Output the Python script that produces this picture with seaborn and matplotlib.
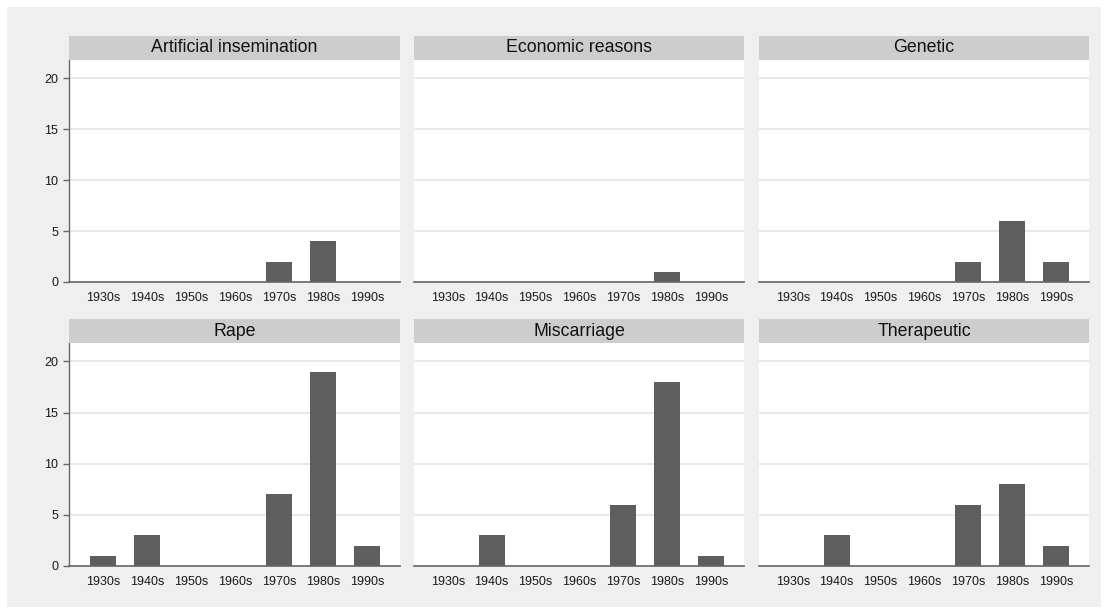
import numpy as np
import pandas as pd
import matplotlib
matplotlib.use('Agg')
import matplotlib.pyplot as plt
import matplotlib.patches as patches
import seaborn as sns

# data
decades = ['1930s', '1940s', '1950s', '1960s', '1970s', '1980s', '1990s']
reasons = ['Artificial insemination', 'Economic reasons', 'Genetic',
           'Rape', 'Miscarriage', 'Therapeutic']
artificial = [0, 0, 0, 0, 2, 4, 0]
economic = [0, 0, 0, 0, 0, 1, 0]
genetic = [0, 0, 0, 0, 2, 6, 2]
rape = [1, 3, 0, 0, 7, 19, 2]
miscarriage = [0, 3, 0, 0, 6, 18, 1]
therapeutic = [0, 3, 0, 0, 6, 8, 2]
y_ticks = [0, 5, 10, 15, 20]

series = [artificial, economic, genetic, rape, miscarriage, therapeutic]
df = pd.DataFrame({
    'reason': np.repeat(reasons, len(decades)),
    'decade': decades * len(reasons),
    'count': np.concatenate(series),
})

sns.set_theme(style='white')
plt.rcParams['font.family'] = ['Liberation Sans', 'DejaVu Sans']

W, H = 1110, 615
fig = plt.figure(figsize=(W / 100, H / 100), dpi=100, facecolor='white')

# light gray backdrop like the stata graph region
fig.patches.append(patches.Rectangle((7 / W, 1 - 607 / H), 1094 / W, 600 / H,
                                     transform=fig.transFigure, facecolor='#efefef',
                                     edgecolor='none', zorder=-5))

cols = [(69, 400), (414, 744), (759, 1089)]
rows = [(36, 60, 282), (319, 343, 566)]  # header top, plot top, plot bottom (px)

for i, reason in enumerate(reasons):
    r, c = divmod(i, 3)
    x0, x1 = cols[c]
    ht, yt, yb = rows[r]
    ax = fig.add_axes([x0 / W, 1 - yb / H, (x1 - x0) / W, (yb - yt) / H])
    ax.set_facecolor('white')

    sub = df[df.reason == reason]
    sns.barplot(data=sub, x='decade', y='count', order=decades, color='#5e5e5e',
                saturation=1, width=0.6, linewidth=0, ax=ax, zorder=3)

    ax.set_xlim(-0.77, 6.75)
    ax.set_ylim(0, 21.8)
    ax.set_yticks(y_ticks)
    ax.yaxis.grid(True, color='#e9e9e9', linewidth=1.5, zorder=0)
    ax.set_axisbelow(True)
    ax.set_xlabel('')
    ax.set_ylabel('')

    for s in ['top', 'right']:
        ax.spines[s].set_visible(False)
    ax.spines['bottom'].set_color('#666666')
    ax.spines['bottom'].set_linewidth(1.2)
    ax.spines['bottom'].set_zorder(5)
    ax.tick_params(axis='x', bottom=False, labelsize=9, pad=1.4, labelcolor='#1a1a1a')
    if c == 0:
        ax.spines['left'].set_color('#666666')
        ax.spines['left'].set_linewidth(1.0)
        ax.tick_params(axis='y', left=True, length=4.3, width=1, color='#666666',
                       labelsize=9, pad=3.4, labelcolor='#1a1a1a')
    else:
        ax.spines['left'].set_visible(False)
        ax.tick_params(axis='y', left=False, labelleft=False)

    # header strip
    fig.patches.append(patches.Rectangle((x0 / W, 1 - yt / H), (x1 - x0) / W, (yt - ht) / H,
                                         transform=fig.transFigure, facecolor='#cdcdcd',
                                         edgecolor='none', zorder=1))
    fig.text((x0 + x1) / 2 / W, 1 - (ht + yt) / 2 / H, reason, ha='center', va='center',
             fontsize=12.8, color='#111111')

fig.savefig('out.png', dpi=100, facecolor='white')
